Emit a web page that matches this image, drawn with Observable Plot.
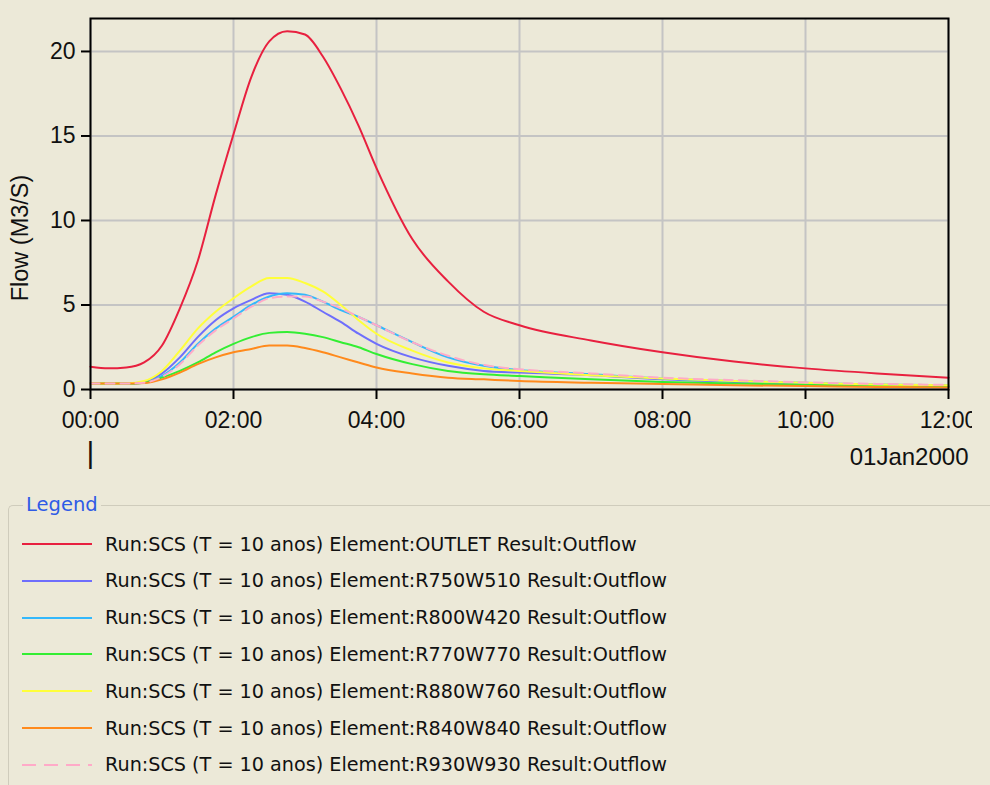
<!DOCTYPE html>
<html>
<head>
<meta charset="utf-8">
<script src="https://cdn.jsdelivr.net/npm/d3@7"></script>
<script src="https://cdn.jsdelivr.net/npm/@observablehq/plot@0.6"></script>
<style>
  html, body { margin: 0; padding: 0; background: #ECE9D8; width: 990px; height: 785px; overflow: hidden; }
  body { position: relative; font-family: "Liberation Sans", Arial, sans-serif; }
  #chart { position: absolute; left: 0; top: 0; width: 972px; height: 480px; overflow: hidden; }
  #chart svg { max-width: none; display: block; }
  #legend { position: absolute; left: 8px; top: 505px; width: 990px; height: 290px;
            border-top: 1px solid #cfccbc; border-left: 1px solid #cfccbc; border-top-left-radius: 5px; }
  #legend .title { position: absolute; left: 14px; top: -13px; padding: 0 3px; background: #ECE9D8;
                   color: #2f5be6; font-family: "DejaVu Sans", sans-serif; font-size: 19.5px; line-height: 24px; }
  #legend .row { position: absolute; left: 13px; height: 30px; display: flex; align-items: center;
                 font-family: "DejaVu Sans", sans-serif; font-size: 19.2px; color: #111; white-space: nowrap; }
  #legend .row svg { margin-right: 13px; }
</style>
</head>
<body>
<div id="chart"></div>
<div id="legend"><span class="title">Legend</span></div>
<script>
// hours since 00:00, 01Jan2000
const hours = [0,0.25,0.5,0.75,1,1.25,1.5,1.75,2,2.25,2.5,2.75,3,3.25,3.5,3.75,4,4.5,5,5.5,6,7,8,9,10,11,12];

const outlet   = [1.35,1.25,1.3,1.6,2.6,4.8,7.6,11.5,15.1,18.5,20.6,21.2,21.0,19.7,17.8,15.6,13.1,8.9,6.4,4.6,3.8,2.9,2.2,1.65,1.25,0.95,0.7];
const r750w510 = [0.35,0.35,0.35,0.45,0.95,1.9,3.1,4.1,4.8,5.3,5.7,5.6,5.2,4.6,4.0,3.3,2.7,1.9,1.4,1.1,1.0,0.85,0.6,0.45,0.35,0.25,0.2];
const r800w420 = [0.35,0.35,0.35,0.4,0.8,1.6,2.7,3.6,4.3,5.0,5.5,5.7,5.6,5.2,4.7,4.3,3.8,2.8,1.9,1.4,1.15,0.9,0.65,0.5,0.4,0.3,0.25];
const r770w770 = [0.35,0.35,0.35,0.4,0.7,1.1,1.6,2.2,2.7,3.1,3.35,3.4,3.3,3.1,2.8,2.5,2.1,1.5,1.1,0.9,0.8,0.6,0.45,0.35,0.28,0.22,0.18];
const r880w760 = [0.35,0.35,0.35,0.5,1.1,2.3,3.6,4.6,5.4,6.1,6.6,6.6,6.3,5.8,5.0,4.1,3.3,2.3,1.6,1.25,1.1,0.85,0.65,0.5,0.4,0.3,0.25];
const r840w840 = [0.35,0.35,0.35,0.38,0.6,1.0,1.5,1.9,2.2,2.4,2.6,2.6,2.45,2.2,1.9,1.6,1.3,0.95,0.7,0.6,0.5,0.4,0.33,0.25,0.2,0.15,0.12];
const r930w930 = [0.35,0.35,0.35,0.4,0.75,1.5,2.6,3.5,4.2,4.9,5.4,5.5,5.5,5.2,4.8,4.3,3.8,2.8,2.0,1.45,1.2,0.95,0.7,0.55,0.42,0.33,0.27];

const elements = ["OUTLET","R750W510","R800W420","R770W770","R880W760","R840W840","R930W930"];
const seriesValues = [outlet, r750w510, r800w420, r770w770, r880w760, r840w840, r930w930];
const colors = ["#e8203f","#6e6efc","#33b8fb","#33ee33","#ffff3a","#ff8a1c","#ffaac8"];
const dashed = [false,false,false,false,false,false,true];
const yTicks = [0,5,10,15,20];
const xTickHours = [0,2,4,6,8,10,12];
const dateLabel = "01Jan2000";
const yLabel = "Flow (M3/S)";
const legendLabel = (e) => `Run:SCS (T = 10 anos) Element:${e} Result:Outflow`;

const t = (h) => new Date(Date.UTC(2000, 0, 1) + h * 3600e3);
const start = t(0), end = t(12);

const marks = [
  Plot.gridX(xTickHours.map(t), {stroke: "#c4c4c4", strokeOpacity: 1, strokeWidth: 2}),
  Plot.gridY(yTicks, {stroke: "#c4c4c4", strokeOpacity: 1, strokeWidth: 2}),
];
elements.forEach((e, i) => {
  const rows = hours.map((h, j) => ({time: t(h), flow: seriesValues[i][j]}));
  marks.push(Plot.line(rows, {
    x: "time", y: "flow", stroke: colors[i], strokeWidth: 2,
    strokeDasharray: dashed[i] ? "9,6" : null, curve: "monotone-x"
  }));
});
marks.push(
  Plot.frame({stroke: "#000", strokeWidth: 2}),
  Plot.axisX(xTickHours.map(t), {tickSize: 10, tickPadding: 12, tickFormat: d3.utcFormat("%H:%M"), stroke: "#000", strokeWidth: 2, fontSize: 23}),
  Plot.axisY(yTicks, {tickSize: 9, tickPadding: 6, stroke: "#000", strokeWidth: 2, fontSize: 23, label: null}),
  Plot.text([yLabel], {frameAnchor: "left", text: d => d, rotate: -90, textAnchor: "middle", dx: -70, dy: 34, fontSize: 23.5, fill: "#111"}),
  Plot.text([start], {x: d => d, text: ["|"], frameAnchor: "bottom", dy: 73, fontSize: 30, fill: "#111"}),
  Plot.text([end], {x: d => d, text: [dateLabel], frameAnchor: "bottom", textAnchor: "end", dx: 20, dy: 75, fontSize: 24, fill: "#111"})
);

const chart = Plot.plot({
  width: 990, height: 480,
  marginLeft: 90, marginRight: 42, marginTop: 18, marginBottom: 91,
  style: {background: "transparent", fontFamily: "Liberation Sans, Arial, sans-serif", color: "#111"},
  x: {type: "utc", domain: [start, end]},
  y: {domain: [0, 21.95]},
  marks
});
document.getElementById("chart").appendChild(chart);

const legend = document.getElementById("legend");
elements.forEach((e, i) => {
  const row = document.createElement("div");
  row.className = "row";
  row.style.top = (23 + i * 36.8) + "px";
  const svg = d3.create("svg").attr("width", 70).attr("height", 6);
  svg.append("line").attr("x1", 0).attr("x2", 70).attr("y1", 3).attr("y2", 3)
    .attr("stroke", colors[i]).attr("stroke-width", 2)
    .attr("stroke-dasharray", dashed[i] ? "14,8" : null);
  row.appendChild(svg.node());
  const span = document.createElement("span");
  span.textContent = legendLabel(e);
  row.appendChild(span);
  legend.appendChild(row);
});
</script>
</body>
</html>
